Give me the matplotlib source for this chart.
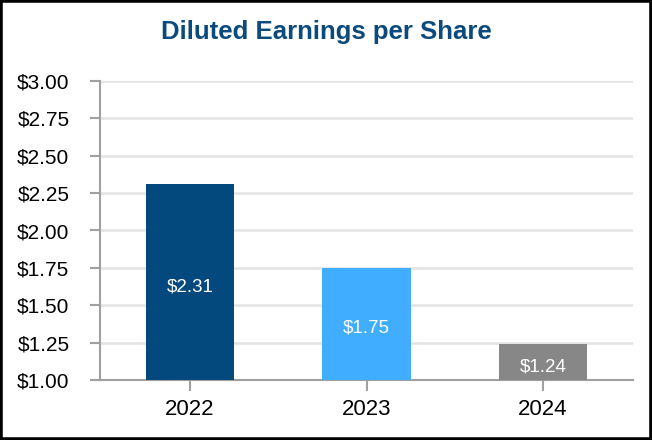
import matplotlib
matplotlib.use("Agg")
import matplotlib.pyplot as plt
from matplotlib.patches import Rectangle

years = ["2022", "2023", "2024"]
eps = [2.31, 1.75, 1.24]
labels = ["$2.31", "$1.75", "$1.24"]
colors = ["#03497D", "#40ADFF", "#878787"]
yticks = [1.00, 1.25, 1.50, 1.75, 2.00, 2.25, 2.50, 2.75, 3.00]

plt.rcParams['font.family'] = ['Liberation Sans', 'DejaVu Sans']

fig = plt.figure(figsize=(6.52, 4.4), dpi=100)
ax = fig.add_axes([100/652, 1-380/440, 533/652, 299/440])

x = list(range(len(years)))
ax.bar(x, [v - 1.0 for v in eps], bottom=1.0, width=0.5, color=colors, zorder=3)
for xi, v, lab in zip(x, eps, labels):
    ax.text(xi, (1.0 + v) / 2 - 0.03, lab, ha='center', va='center',
            color='white', fontsize=13.5, zorder=4)

ax.set_ylim(1.0, 3.0)
ax.set_xlim(-0.51, 2.51)
ax.set_yticks(yticks)
ax.set_yticklabels([f"${t:.2f}" for t in yticks], fontsize=15)
ax.set_xticks(x)
ax.set_xticklabels(years, fontsize=16)
ax.yaxis.grid(True, color='#E3E3E3', linewidth=1.8, zorder=0)
ax.set_axisbelow(True)

for s in ['top', 'right']:
    ax.spines[s].set_visible(False)
for s in ['left', 'bottom']:
    ax.spines[s].set_color('#A0A0A0')
    ax.spines[s].set_linewidth(1.5)
ax.tick_params(axis='y', length=7, width=1.5, color='#A0A0A0', pad=15)
ax.tick_params(axis='x', length=8, width=1.5, color='#A0A0A0', pad=6)

fig.text(0.5, 1 - 32/440, "Diluted Earnings per Share", ha='center', va='center',
         fontsize=18.5, fontweight='bold', color='#0B4A7C')

fig.patches.append(Rectangle((0, 0), 1, 1, transform=fig.transFigure,
                             fill=False, edgecolor='black', linewidth=4))

fig.savefig("out.png", dpi=100)
